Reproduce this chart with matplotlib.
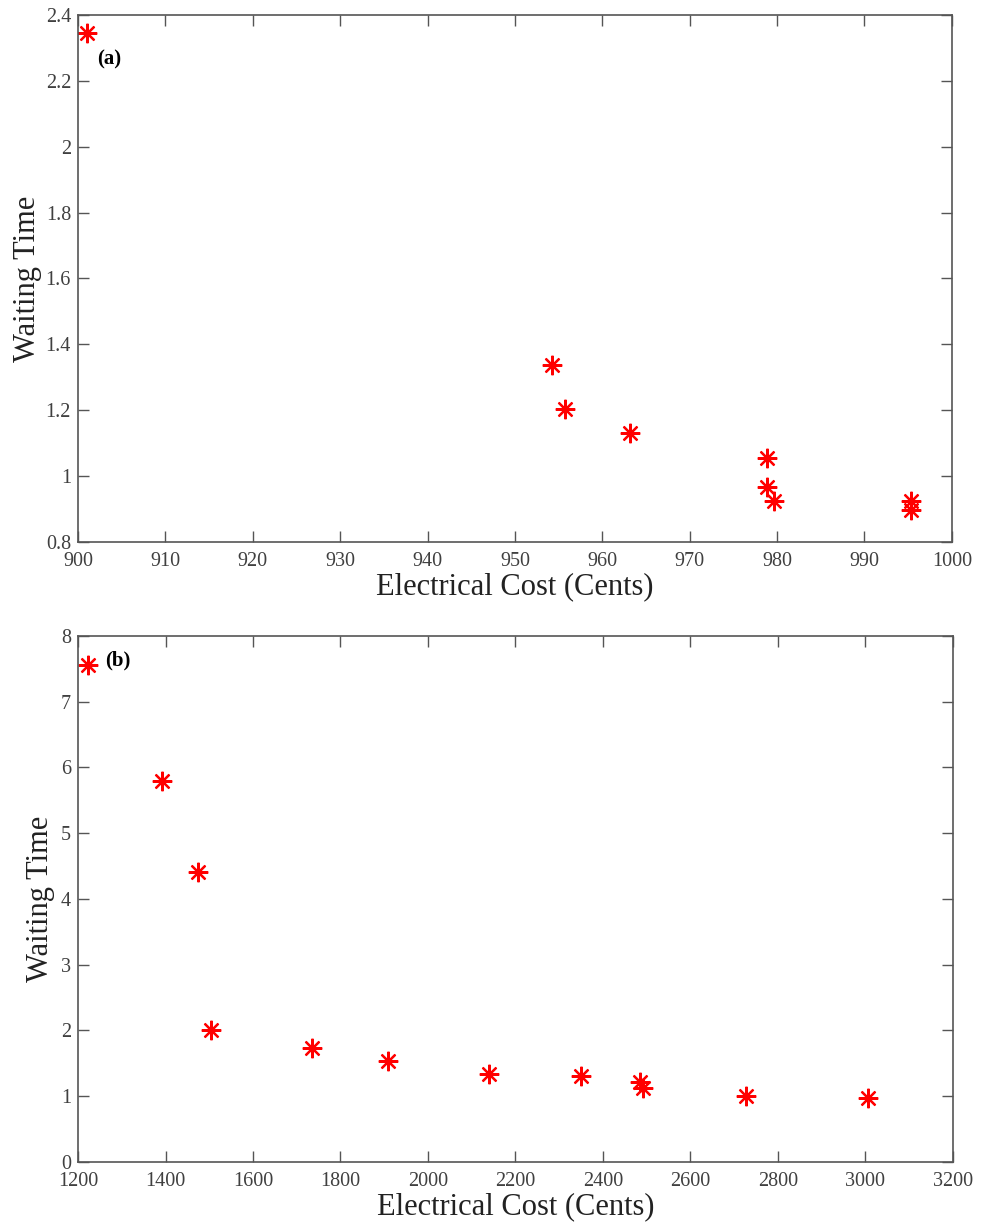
import matplotlib.pyplot as plt
from matplotlib.ticker import MultipleLocator

plt.rcParams["font.family"] = ["Liberation Serif", "DejaVu Serif"]

# panel (a)
cost_a = [901.0, 954.2, 955.7, 963.2, 978.9, 978.9, 979.6, 995.3, 995.3]
wait_a = [2.345, 1.337, 1.203, 1.132, 1.056, 0.968, 0.925, 0.925, 0.897]

# panel (b)
cost_b = [1222, 1391, 1475, 1504, 1734, 1909, 2140, 2350, 2485, 2491, 2727, 3006]
wait_b = [7.56, 5.80, 4.41, 2.01, 1.73, 1.54, 1.34, 1.30, 1.22, 1.12, 1.00, 0.97]

fig = plt.figure(figsize=(9.84, 12.24), dpi=100)
ax1 = fig.add_axes([0.0793, 0.5572, 0.888, 0.4306])
ax2 = fig.add_axes([0.0793, 0.0507, 0.889, 0.4297])

red = "#ff0000"
spine_col = "#555555"
tick_col = "#404040"


def style(ax, ylab_x):
    for s in ax.spines.values():
        s.set_color(spine_col)
        s.set_linewidth(1.2)
    ax.tick_params(direction="in", length=8, width=1.0, color=spine_col,
                   top=True, right=True, labelsize=14.5, labelcolor=tick_col)
    ax.tick_params(axis="x", pad=7)
    ax.tick_params(axis="y", pad=5)
    ax.set_xlabel("Electrical Cost (Cents)", fontsize=22, color="#222222")
    ax.set_ylabel("Waiting Time", fontsize=22, color="#222222")
    ax.xaxis.set_label_coords(0.5, -0.058)
    ax.yaxis.set_label_coords(ylab_x, 0.5)


ax1.plot(cost_a, wait_a, linestyle="none", marker=(8, 2, 0), markersize=14,
         markeredgewidth=1.6, color=red)
ax1.set_xlim(900, 1000)
ax1.set_ylim(0.8, 2.4)
ax1.xaxis.set_major_locator(MultipleLocator(10))
ax1.set_yticks([0.8, 1.0, 1.2, 1.4, 1.6, 1.8, 2.0, 2.2, 2.4])
ax1.set_yticklabels(["0.8", "1", "1.2", "1.4", "1.6", "1.8", "2", "2.2", "2.4"])
style(ax1, -0.041)
ax1.text(0.022, 0.915, "(a)", transform=ax1.transAxes, fontsize=15,
         fontweight="bold", va="center", ha="left")

ax2.plot(cost_b, wait_b, linestyle="none", marker=(8, 2, 0), markersize=14,
         markeredgewidth=1.6, color=red)
ax2.set_xlim(1200, 3200)
ax2.set_ylim(0, 8)
ax2.xaxis.set_major_locator(MultipleLocator(200))
ax2.yaxis.set_major_locator(MultipleLocator(1))
style(ax2, -0.026)
ax2.text(0.031, 0.954, "(b)", transform=ax2.transAxes, fontsize=15,
         fontweight="bold", va="center", ha="left")

fig.savefig("out.png", dpi=100)
